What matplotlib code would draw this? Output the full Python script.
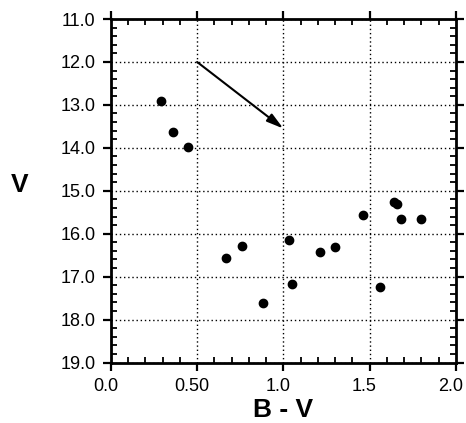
import numpy as np
import matplotlib.pyplot as plt
import matplotlib.transforms as mtransforms
from matplotlib.ticker import MultipleLocator, FixedLocator, FixedFormatter

# B-V colour and V magnitude of the stars
bv = [0.29, 0.36, 0.45, 0.67, 0.76, 0.88, 1.03, 1.05, 1.21, 1.30,
      1.46, 1.56, 1.64, 1.66, 1.68, 1.80]
vmag = [12.90, 13.64, 13.99, 16.57, 16.28, 17.61, 16.14, 17.18, 16.43, 16.32,
        15.56, 17.25, 15.25, 15.30, 15.66, 15.66]

# reddening vector
arrow_start = (0.5, 12.0)
arrow_end = (1.0, 13.55)

xticks = [0.0, 0.5, 1.0, 1.5, 2.0]
xticklabels = ['0.0', '0.50', '1.0', '1.5', '2.0']
yticks = [11, 12, 13, 14, 15, 16, 17, 18, 19]
yticklabels = ['%.1f' % v for v in yticks]

plt.rcParams['font.family'] = ['Liberation Sans', 'DejaVu Sans']

fig = plt.figure(figsize=(4.66, 4.23), dpi=100)
ax = fig.add_axes([0.238, 0.143, 0.740, 0.812])

ax.scatter(bv, vmag, s=36, color='black', zorder=3)
ax.annotate('', xy=arrow_end, xytext=arrow_start,
            arrowprops=dict(arrowstyle='-|>,head_length=1.0,head_width=0.28',
                            color='black', lw=1.5, shrinkA=0, shrinkB=0))

ax.set_xlim(0, 2.0)
ax.set_ylim(19, 11)
ax.xaxis.set_major_locator(FixedLocator(xticks))
ax.xaxis.set_major_formatter(FixedFormatter(xticklabels))
ax.xaxis.set_minor_locator(MultipleLocator(0.1))
ax.yaxis.set_major_locator(FixedLocator(yticks))
ax.yaxis.set_major_formatter(FixedFormatter(yticklabels))
ax.yaxis.set_minor_locator(MultipleLocator(0.2))

ax.grid(True, which='major', color='black', linestyle=(0, (1, 2)), lw=1.0)
ax.tick_params(which='major', direction='out', length=6, width=1.6,
               top=True, right=True, labelsize=13, pad=5)
ax.tick_params(which='minor', direction='in', length=4, width=1.3,
               top=True, right=True)
for sp in ax.spines.values():
    sp.set_linewidth(2)

# x tick labels sit a little left of their ticks in the original
shift = mtransforms.ScaledTranslation(-5/100, 0, fig.dpi_scale_trans)
for lab in ax.get_xticklabels():
    lab.set_transform(lab.get_transform() + shift)

fig.text(0.043, 0.563, 'V', fontsize=19, fontweight='bold',
         ha='center', va='center')
ax.set_xlabel('B - V', fontsize=19, fontweight='bold', labelpad=2)

fig.savefig('out.png', dpi=100)
